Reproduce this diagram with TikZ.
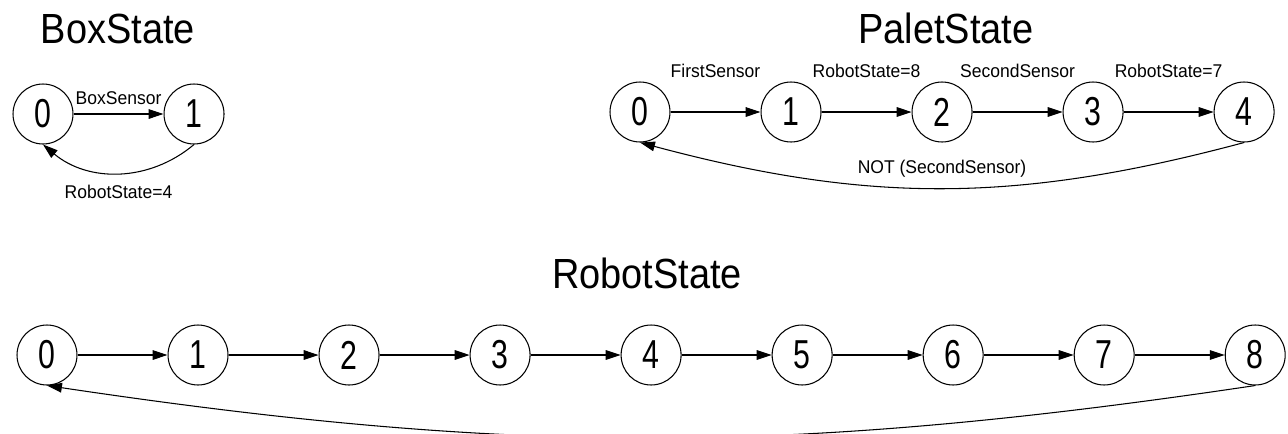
\documentclass[tikz,border=0pt]{standalone}
\usepackage{fontspec}
\setmainfont{Liberation Sans}[FakeStretch=0.75]
\newfontfamily\headingfont{Liberation Sans}[FakeStretch=0.9]
\newfontfamily\labelfont{Liberation Sans}[FakeStretch=0.95]
\usepackage{tikz}
\usetikzlibrary{positioning, arrows.meta}

\begin{document}
\begin{tikzpicture}
[
x=0.02cm, y=-0.02cm,
node distance=1.8cm,
state/.style={draw, circle, minimum size=1.2cm, inner sep=0pt, line width=0.6pt, font=\fontsize{23}{23}\selectfont},
heading/.style={anchor=base, inner sep=0pt, font=\headingfont\fontsize{24}{28}\selectfont},
lbl/.style={inner sep=0pt, font=\labelfont\fontsize{10.5}{12}\selectfont},
trans/.style={-{Triangle[length=8.5pt, width=5.5pt]}, line width=0.6pt}]
\useasboundingbox (0,0) rectangle (1288,433);

\node[heading] (boxtitle) at (118,43) {BoxState};
\node[state] (b0) at (43,114) {0};
\node[state, right=of b0] (b1) {1};
\draw[trans] (b0) -- node[lbl, above=0.18cm] {BoxSensor} (b1);
\draw[trans] (b1.south) to[bend left=40] node[lbl, below=0.24cm] {RobotState=4} (b0.south);

\node[heading] (palettitle) at (946,43) {PaletState};
\node[state] (p0) at (640,112) {0};
\node[state, right=of p0] (p1) {1};
\node[state, right=of p1] (p2) {2};
\node[state, right=of p2] (p3) {3};
\node[state, right=of p3] (p4) {4};
\draw[trans] (p0) -- node[lbl, above=0.68cm] {FirstSensor} (p1);
\draw[trans] (p1) -- node[lbl, above=0.68cm] {RobotState=8} (p2);
\draw[trans] (p2) -- node[lbl, above=0.68cm] {SecondSensor} (p3);
\draw[trans] (p3) -- node[lbl, above=0.68cm] {RobotState=7} (p4);
\draw[trans] (p4.south) to[bend left=15] node[lbl, above=0.2cm] {NOT (SecondSensor)} (p0.south);

\node[heading] (robottitle) at (647,288) {RobotState};
\node[state] (r0) at (47,355) {0};
\node[state, right=of r0] (r1) {1};
\node[state, right=of r1] (r2) {2};
\node[state, right=of r2] (r3) {3};
\node[state, right=of r3] (r4) {4};
\node[state, right=of r4] (r5) {5};
\node[state, right=of r5] (r6) {6};
\node[state, right=of r6] (r7) {7};
\node[state, right=of r7] (r8) {8};
\draw[trans] (r0) -- (r1);
\draw[trans] (r1) -- (r2);
\draw[trans] (r2) -- (r3);
\draw[trans] (r3) -- (r4);
\draw[trans] (r4) -- (r5);
\draw[trans] (r5) -- (r6);
\draw[trans] (r6) -- (r7);
\draw[trans] (r7) -- (r8);
\draw[trans] (r8.south) to[bend left=8.5] (r0.south);
\end{tikzpicture}
\end{document}
